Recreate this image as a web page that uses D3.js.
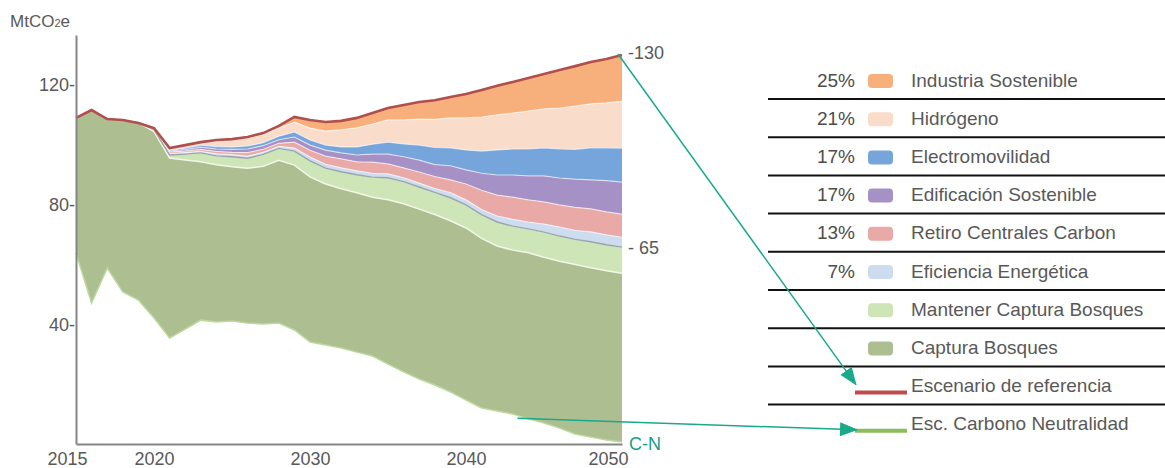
<!DOCTYPE html>
<html><head><meta charset="utf-8">
<script src="https://cdn.jsdelivr.net/npm/d3@7"></script>
<style>
body{margin:0;background:#fff;}
svg{display:block;font-family:"Liberation Sans",Arial,sans-serif;}
</style></head><body>
<svg id="c" width="1165" height="468"></svg>
<script>
// ---------- DATA (MtCO2e) ----------
const years = [2015,2016,2017,2018,2019,2020,2021,2022,2023,2024,2025,2026,2027,2028,2029,2030,2031,2032,2033,2034,2035,2036,2037,2038,2039,2040,2041,2042,2043,2044,2045,2046,2047,2048,2049,2050];
const reference = [109.0,111.6,108.6,108.3,107.3,105.6,98.9,99.9,100.9,101.6, 101.9,102.6,103.9,106.3,109.3,108.3,107.6,108.0,109.0,110.6, 112.3,113.3,114.3,114.9,116.0,117.0,118.3,119.7,121.0,122.3, 123.7,125.0,126.3,127.7,128.7,130.0];
const carbonNeutral = [63.8,47.1,58.8,50.8,48.1,42.1,35.4,38.4,41.4,40.8, 41.1,40.4,40.1,40.4,38.1,34.1,33.1,32.1,30.7,29.4, 26.7,24.1,21.7,19.7,17.4,14.7,12.0,11.0,10.0,8.4, 7.0,5.3,3.3,2.3,1.3,0.7];
// wedge thickness, from top of stack downward
const industria   = [0,0,0,0,0,0,0,0,0,0.2, 0.3,0.3,0.5,0.7,1.7,2.7,3.0,3.0,3.3,3.7, 4.0,5.0,5.7,6.4,7.0,8.0,9.0,9.7,10.4,11.0, 11.7,12.7,13.4,14.0,14.7,15.4];
const hidrogeno   = [0,0,0,0,0,0.3,0.7,1.0,1.0,2.0, 2.3,2.7,2.7,2.7,3.3,4.0,4.7,5.7,6.4,6.7, 7.4,8.0,8.7,9.4,10.0,10.7,11.4,11.7,12.0,12.7, 13.0,13.7,14.4,14.7,15.0,15.7];
const electro     = [0,0,0,0,0,0,0.3,0.5,0.7,0.8, 0.8,1.0,1.0,1.2,1.7,1.7,1.7,2.0,2.7,3.3, 4.0,4.3,5.0,5.7,6.0,6.7,7.4,8.4,8.7,9.0, 9.4,9.7,10.0,10.7,11.0,11.4];
const edificacion = [0,0,0,0,0,0,0.3,0.5,0.7,0.8, 1.0,1.2,1.2,1.2,1.7,1.7,2.0,2.0,2.3,2.7, 3.3,3.7,4.0,4.0,4.7,4.7,5.7,6.7,7.4,8.0, 8.7,9.0,9.4,9.7,10.4,10.7];
const retiro      = [0,0,0,0,0,0,0.5,0.5,0.7,0.8, 0.8,1.2,1.0,1.0,2.0,2.3,2.7,3.0,3.0,3.7, 3.3,3.3,3.7,4.0,4.3,5.3,6.4,7.0,7.4,7.4, 7.4,7.4,7.7,7.7,7.7,7.7];
const eficiencia  = [0,0,0,0,0,0.2,0.5,0.5,0.5,0.7, 0.7,0.7,0.7,0.7,1.0,1.3,1.3,1.3,1.3,1.3, 1.3,1.3,1.3,1.3,1.7,1.7,1.7,2.0,2.3,2.3, 2.7,3.0,3.0,3.3,3.3,3.3];
const mantener    = [0,0,0,0,0,0.7,1.0,2.0,3.0,3.0, 3.3,3.3,4.0,4.0,4.7,5.3,5.3,5.7,6.0,6.7, 7.4,7.4,7.4,7.4,7.7,7.7,8.0,8.0,8.0,8.0, 8.4,8.4,8.4,8.7,8.7,8.7];

const layerNames = ["Industria Sostenible","Hidrógeno","Electromovilidad","Edificación Sostenible","Retiro Centrales Carbon","Eficiencia Energética","Mantener Captura Bosques","Captura Bosques"];
const layerPcts  = ["25%","21%","17%","17%","13%","7%","",""];
const layerColors = ["#f7b07b","#fadcca","#76a5dc","#a591c6","#e8a9a7","#cddcef","#cde5b7","#adbe90"];
const lineNames = ["Escenario de referencia","Esc. Carbono Neutralidad"];
const lineColors = ["#c04c4a","#8cbd5b"];
const xTicks = [2015,2020,2030,2040,2050];
const yTicks = [40,80,120];
const endLabels = [{v:130,t:"-130"},{v:65,t:"- 65"}];

// ---------- SCALES ----------
const svg = d3.select("#c");
const x = d3.scaleLinear().domain([2015,2050]).range([76,622]);
const y = d3.scaleLinear().domain([0,136.7]).range([444,35]);

// ---------- STACK (drawn downward from reference) ----------
const wedges = [industria,hidrogeno,electro,edificacion,retiro,eficiencia,mantener];
let cur = reference.slice();
const bands = [];
wedges.forEach((w,k)=>{
  const pts = years.map((yr,i)=>({yr, t:cur[i], b:cur[i]-w[i]}));
  bands.push({k, pts});
  cur = cur.map((c,i)=>c-w[i]);
});
bands.push({k:7, pts: years.map((yr,i)=>({yr, t:cur[i], b:carbonNeutral[i]}))});

const area = d3.area().x(d=>x(d.yr)).y0(d=>y(d.b)).y1(d=>y(d.t));
const lineT = d3.line().x(d=>x(d.yr)).y(d=>y(d.t));
const lineB = d3.line().x(d=>x(d.yr)).y(d=>y(d.b));

const g = svg.append("g");
g.selectAll("path.band").data(bands).join("path")
  .attr("class","band").attr("d",d=>area(d.pts))
  .attr("fill",d=>layerColors[d.k]);
// soft white separators between wedges
g.selectAll("path.sep").data(bands.filter(b=>b.k<6)).join("path")
  .attr("d",d=>lineB(d.pts)).attr("fill","none")
  .attr("stroke","#ffffff").attr("stroke-opacity",0.6).attr("stroke-width",1.2);
// whitish line on top of Captura Bosques
g.append("path").attr("d",lineT(bands[7].pts)).attr("fill","none")
  .attr("stroke","#f2f7ea").attr("stroke-width",1.5);
// gray line on top of Mantener Captura
g.append("path").attr("d",lineT(bands[6].pts)).attr("fill","none")
  .attr("stroke","#8a97a0").attr("stroke-width",1.4).attr("stroke-opacity",0.85);
// carbon neutrality edge
g.append("path").attr("d",lineB(bands[7].pts)).attr("fill","none")
  .attr("stroke","#bcd9a0").attr("stroke-width",1.5);
// reference line
g.append("path").datum(years.map((yr,i)=>({yr,v:reference[i]})))
  .attr("d",d3.line().x(d=>x(d.yr)).y(d=>y(d.v)))
  .attr("fill","none").attr("stroke","#b04f4b").attr("stroke-width",2.6);

// ---------- AXES ----------
const txt = "#595959";
const ya = svg.append("g").attr("transform",`translate(${x(2015)},0)`)
  .call(d3.axisLeft(y).tickValues(yTicks).tickSize(0).tickSizeOuter(0).tickPadding(1).tickFormat(d=>d+"-"));
ya.select(".domain").attr("stroke","#858585").attr("stroke-width",2);
ya.selectAll("text").attr("fill",txt).style("font-size","18px").style("font-family","'Liberation Sans',Arial,sans-serif");

const xa = svg.append("g").attr("transform",`translate(0,${y(0)})`)
  .call(d3.axisBottom(x).tickValues(xTicks).tickSize(0).tickSizeOuter(0).tickPadding(8).tickFormat(d3.format("d")));
xa.select(".domain").attr("stroke","#858585").attr("stroke-width",2);
xa.selectAll("text").attr("fill",txt).style("font-size","18px").style("font-family","'Liberation Sans',Arial,sans-serif");
// first label sits left of the axis, last label ends at the plot edge
xa.selectAll(".tick text").filter(d=>d===2015).attr("dx",-9);
xa.selectAll(".tick text").filter(d=>d===2050).attr("text-anchor","end").attr("dx",6);

// unit label
const u = svg.append("text").attr("x",10).attr("y",27).attr("fill",txt).style("font-size","17px");
u.append("tspan").text("MtCO");
u.append("tspan").text("2").style("font-size","11px");
u.append("tspan").text("e");

// end labels
svg.selectAll("text.end").data(endLabels).join("text").attr("class","end")
  .attr("x",x(2050)+6).attr("y",d=>y(d.v)-2).attr("dy","0.35em")
  .attr("fill",txt).style("font-size","18px").text(d=>d.t);
svg.append("text").attr("x",x(2050)+7).attr("y",y(0)).attr("dy","0.35em")
  .attr("fill","#1b9c86").style("font-size","18px").text("C-N");

// ---------- LEGEND ----------
const row = d3.scaleLinear().domain([0,1]).range([80,118.2]);
const lg = svg.append("g");
const allRows = layerNames.length + lineNames.length;
lg.selectAll("line.sep").data(d3.range(allRows-1)).join("line")
  .attr("x1",768).attr("x2",1165).attr("y1",i=>row(i)+19).attr("y2",i=>row(i)+19)
  .attr("stroke","#111").attr("stroke-width",2);
lg.selectAll("rect").data(layerNames).join("rect")
  .attr("x",868).attr("y",(d,i)=>row(i)-6).attr("width",25).attr("height",14).attr("rx",4)
  .attr("fill",(d,i)=>layerColors[i]);
lg.selectAll("text.pct").data(layerPcts).join("text").attr("class","pct")
  .attr("x",855).attr("y",(d,i)=>row(i)).attr("dy","0.35em").attr("text-anchor","end")
  .attr("fill","#4d4d4d").style("font-size","19px").text(d=>d);
lg.selectAll("text.lab").data(layerNames.concat(lineNames)).join("text").attr("class","lab")
  .attr("x",911).attr("y",(d,i)=>row(i)).attr("dy","0.35em")
  .attr("fill",txt).style("font-size","19px").text(d=>d);
lg.selectAll("line.sw").data(lineNames).join("line").attr("class","sw")
  .attr("x1",855).attr("x2",907)
  .attr("y1",(d,i)=>row(layerNames.length+i)+7).attr("y2",(d,i)=>row(layerNames.length+i)+7)
  .attr("stroke",(d,i)=>lineColors[i]).attr("stroke-width",4);

// ---------- ANNOTATION ARROWS ----------
const teal = "#19a98b";
svg.append("defs").append("marker").attr("id","ah")
  .attr("markerUnits","userSpaceOnUse").attr("markerWidth",18).attr("markerHeight",14)
  .attr("refX",17).attr("refY",7).attr("orient","auto")
  .append("path").attr("d","M0,0 L18,7 L0,14 Z").attr("fill",teal);
svg.append("line").attr("x1",x(2050)-4).attr("y1",y(130)-1)
  .attr("x2",856).attr("y2",row(layerNames.length)-1)
  .attr("stroke",teal).attr("stroke-width",1.5).attr("marker-end","url(#ah)");
svg.append("line").attr("x1",x(2043.3)).attr("y1",y(8.6))
  .attr("x2",857).attr("y2",row(layerNames.length+1)+6)
  .attr("stroke",teal).attr("stroke-width",1.5).attr("marker-end","url(#ah)");
</script>
</body></html>
